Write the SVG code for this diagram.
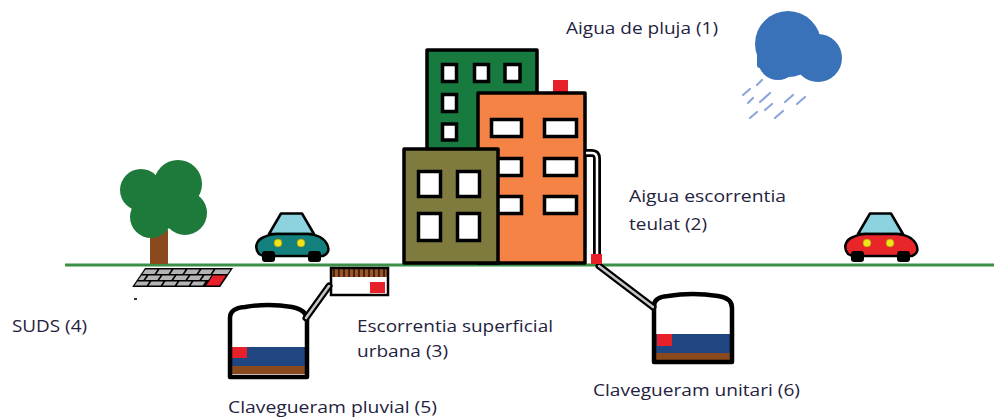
<svg xmlns="http://www.w3.org/2000/svg" width="994" height="419" viewBox="0 0 994 419">
  <style>
    .lbl { font-family: "Open Sans", "Liberation Sans", sans-serif; font-size: 16px; fill: #1f2340; }
    .outline { stroke: #000; stroke-width: 3.5; stroke-linejoin: round; }
    .win { fill: #fff; stroke: #000; stroke-width: 3.5; }
    .pipe-outer { fill: none; stroke: #000; stroke-width: 7; stroke-linecap: round; stroke-linejoin: round; }
    .pipe-inner { fill: none; stroke: #c8c8c8; stroke-width: 2.5; stroke-linecap: round; stroke-linejoin: round; }
    .drain { fill: #e8202a; }
    .water { fill: #1f4680; }
    .sludge { fill: #8a4a1e; }
    .rain { stroke: #8ea6dc; stroke-width: 2.2; stroke-linecap: round; }
    .brick { fill: #b4b4b4; }
    .cabin { fill: #8dd3df; stroke: #000; stroke-width: 2.5; stroke-linejoin: round; }
    .lamp { fill: #f2e21c; stroke: #9a8a00; stroke-width: 0.6; }
    .body { stroke: #000; stroke-width: 2.5; stroke-linejoin: round; }
    .sewer-wall { fill: none; stroke: #000; stroke-width: 4.5; stroke-linejoin: round; }
  </style>
  <defs>
    <pattern id="grate" width="5" height="10" patternUnits="userSpaceOnUse">
      <rect width="5" height="10" fill="#9a5628"/>
      <rect x="3" width="2" height="10" fill="#4a2210"/>
    </pattern>
    <!-- car silhouette, body colour set per instance -->
    <path id="car-body" d="M5,42 C0,36 2,28 10,25 C14,23 18,22 22,22 L54,22 C62,22 70,26 73,32 C76,38 74,42 69,44 L9,44 Z"/>
    <g id="car-top">
      <path class="cabin" d="M27,1.5 L48,1.5 L60,22 L15,22 Z"/>
    </g>
    <g id="car-wheels">
      <rect x="8" y="39" width="13" height="11" rx="3" fill="#000"/>
      <rect x="54" y="39" width="13" height="11" rx="3" fill="#000"/>
      <circle class="lamp" cx="24" cy="31" r="4"/>
      <circle class="lamp" cx="47" cy="31" r="4"/>
    </g>
  </defs>

  <!-- ground line -->
  <g id="ground">
    <line x1="65" y1="265" x2="994" y2="265" stroke="#3b8f47" stroke-width="3"/>
  </g>

  <!-- rain cloud -->
  <g id="cloud">
    <g fill="#3a72ba">
      <circle cx="788" cy="44" r="33"/>
      <circle cx="818" cy="58" r="24"/>
      <circle cx="778" cy="60" r="20"/>
      <rect x="757" y="40" width="46" height="28" rx="3"/>
    </g>
    <g class="rain">
      <line x1="743" y1="95" x2="750" y2="89"/>
      <line x1="757" y1="85" x2="762" y2="80"/>
      <line x1="748" y1="103" x2="753" y2="98"/>
      <line x1="760" y1="102" x2="770" y2="93"/>
      <line x1="765" y1="110" x2="772" y2="104"/>
      <line x1="750" y1="118" x2="757" y2="112"/>
      <line x1="785" y1="102" x2="793" y2="95"/>
      <line x1="797" y1="104" x2="805" y2="97"/>
      <line x1="775" y1="118" x2="783" y2="111"/>
    </g>
  </g>

  <!-- tree -->
  <g id="tree">
    <rect x="150" y="230" width="18" height="34" fill="#8a4a1e"/>
    <g fill="#1d7a3a">
      <circle cx="141" cy="190" r="21"/>
      <circle cx="178" cy="184" r="24"/>
      <circle cx="185" cy="213" r="22"/>
      <circle cx="151" cy="217" r="21"/>
      <circle cx="164" cy="202" r="24"/>
    </g>
  </g>

  <!-- permeable paving (SUDS) -->
  <g id="suds">
    <g transform="translate(145,268) skewX(-34)">
      <rect x="0" y="0" width="88" height="19" fill="#000"/>
      <g class="brick">
        <rect x="1.5" y="1.5" width="12" height="4.5"/>
        <rect x="15.5" y="1.5" width="12" height="4.5"/>
        <rect x="29.5" y="1.5" width="12" height="4.5"/>
        <rect x="43.5" y="1.5" width="12" height="4.5"/>
        <rect x="57.5" y="1.5" width="12" height="4.5"/>
        <rect x="71.5" y="1.5" width="15" height="4.5"/>
        <rect x="1.5" y="7.5" width="5" height="4.5"/>
        <rect x="8.5" y="7.5" width="12" height="4.5"/>
        <rect x="22.5" y="7.5" width="12" height="4.5"/>
        <rect x="36.5" y="7.5" width="12" height="4.5"/>
        <rect x="50.5" y="7.5" width="12" height="4.5"/>
        <rect x="64.5" y="7.5" width="7" height="4.5"/>
        <rect x="1.5" y="13.5" width="12" height="4"/>
        <rect x="15.5" y="13.5" width="12" height="4"/>
        <rect x="29.5" y="13.5" width="12" height="4"/>
        <rect x="43.5" y="13.5" width="12" height="4"/>
        <rect x="57.5" y="13.5" width="12" height="4"/>
      </g>
      <rect class="drain" x="73" y="7.5" width="13" height="10"/>
    </g>
    <rect x="134" y="298" width="3" height="2" fill="#333"/>
  </g>

  <!-- teal car -->
  <g id="car-teal" transform="translate(254,212)">
    <use href="#car-top"/>
    <use href="#car-body" class="body" fill="#14807e"/>
    <use href="#car-wheels"/>
  </g>

  <!-- red car -->
  <g id="car-red" transform="translate(843,212)">
    <use href="#car-top"/>
    <use href="#car-body" class="body" fill="#e8262a"/>
    <use href="#car-wheels"/>
  </g>

  <!-- buildings -->
  <g id="building-green">
    <rect class="outline" x="427" y="50" width="110" height="100" fill="#177a3e"/>
    <rect class="win" x="442.5" y="64.5" width="14" height="17"/>
    <rect class="win" x="474.5" y="64.5" width="14" height="17"/>
    <rect class="win" x="505" y="64.5" width="15" height="17"/>
    <rect class="win" x="442.5" y="94.5" width="14" height="17"/>
    <rect class="win" x="442.5" y="124" width="14" height="16"/>
  </g>
  <g id="building-orange">
    <rect class="drain" x="553" y="80" width="15" height="12"/>
    <rect class="outline" x="478" y="93" width="107" height="170" fill="#f58345"/>
    <rect class="win" x="491.5" y="119.5" width="30" height="17"/>
    <rect class="win" x="544.5" y="119.5" width="32" height="17"/>
    <rect class="win" x="491.5" y="158.5" width="30" height="17"/>
    <rect class="win" x="544.5" y="158.5" width="32" height="17"/>
    <rect class="win" x="491.5" y="196.5" width="30" height="17"/>
    <rect class="win" x="544.5" y="196.5" width="32" height="17"/>
  </g>
  <g id="building-olive">
    <rect class="outline" x="404" y="149" width="94" height="114" fill="#7f7b3e"/>
    <rect class="win" x="418.5" y="171.5" width="22" height="25"/>
    <rect class="win" x="457.5" y="171.5" width="22" height="25"/>
    <rect class="win" x="418.5" y="213.5" width="22" height="27"/>
    <rect class="win" x="457.5" y="213.5" width="22" height="27"/>
  </g>

  <!-- storm inlet -->
  <g id="inlet">
    <rect x="331" y="268" width="57" height="27" fill="#fff"/>
    <rect x="331" y="268" width="57" height="9" fill="url(#grate)"/>
    <rect class="drain" x="370" y="282" width="15" height="11"/>
    <rect x="331" y="268" width="57" height="27" fill="none" stroke="#000" stroke-width="2.5"/>
  </g>

  <!-- storm sewer -->
  <g id="sewer-storm">
    <path d="M230,377 L230,318 Q230,308 245,307 Q268,303 292,307 Q307,310 307,320 L307,377 Z" fill="#fff"/>
    <rect class="water" x="231" y="347" width="75" height="19"/>
    <rect class="sludge" x="231" y="366" width="75" height="8"/>
    <rect class="drain" x="232" y="347" width="15" height="11"/>
    <path class="sewer-wall" d="M230,377 L230,318 Q230,308 245,307 Q268,303 292,307 Q307,310 307,320 L307,377 Z"/>
  </g>

  <!-- combined sewer -->
  <g id="sewer-combined">
    <path d="M654,362 L654,306 Q654,297 668,296 Q692,292 718,296 Q732,298 732,308 L732,362 Z" fill="#fff"/>
    <rect class="water" x="655" y="334" width="76" height="19"/>
    <rect class="sludge" x="655" y="353" width="76" height="8"/>
    <rect class="drain" x="657" y="334" width="15" height="12"/>
    <path class="sewer-wall" d="M654,362 L654,306 Q654,297 668,296 Q692,292 718,296 Q732,298 732,308 L732,362 Z"/>
  </g>

  <!-- pipes -->
  <g id="connectors">
    <path class="pipe-outer" d="M329,286 L306,318"/>
    <path class="pipe-inner" d="M329,286 L306,318"/>
    <path class="pipe-outer" d="M599,266 L653,307"/>
    <path class="pipe-inner" d="M599,266 L653,307"/>
    <path d="M586,153 L592,153 Q597,153 597,159 L597,258" fill="none" stroke="#000" stroke-width="8" stroke-linejoin="round"/>
    <path d="M586,153 L592,153 Q597,153 597,159 L597,258" fill="none" stroke="#fff" stroke-width="2.5" stroke-linejoin="round"/>
    <rect class="drain" x="591" y="254" width="11" height="10"/>
  </g>

  <!-- labels -->
  <g id="labels">
    <text class="lbl" x="566" y="34" textLength="152" lengthAdjust="spacingAndGlyphs">Aigua de pluja (1)</text>
    <text class="lbl" x="629" y="202" textLength="157" lengthAdjust="spacingAndGlyphs">Aigua escorrentia</text>
    <text class="lbl" x="629" y="230" textLength="78" lengthAdjust="spacingAndGlyphs">teulat (2)</text>
    <text class="lbl" x="12" y="332" textLength="75" lengthAdjust="spacingAndGlyphs">SUDS (4)</text>
    <text class="lbl" x="357" y="332" textLength="196" lengthAdjust="spacingAndGlyphs">Escorrentia superficial</text>
    <text class="lbl" x="357" y="357" textLength="91" lengthAdjust="spacingAndGlyphs">urbana (3)</text>
    <text class="lbl" x="228" y="413" textLength="209" lengthAdjust="spacingAndGlyphs">Clavegueram pluvial (5)</text>
    <text class="lbl" x="593" y="396" textLength="207" lengthAdjust="spacingAndGlyphs">Clavegueram unitari (6)</text>
  </g>
</svg>
